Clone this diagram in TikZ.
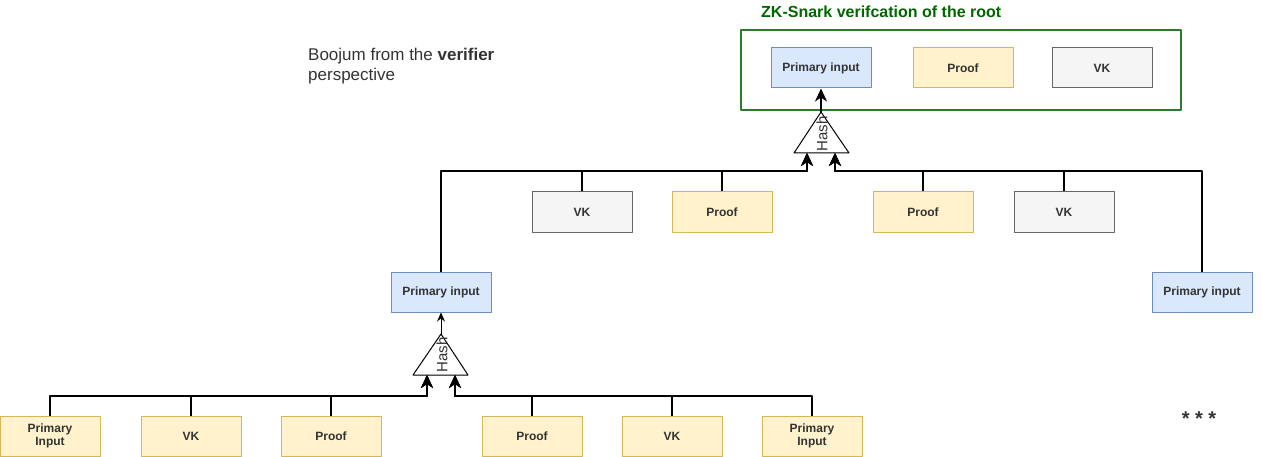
\documentclass[tikz,border=0pt]{standalone}
\usepackage{fontspec}
\setmainfont{Liberation Sans}
\usetikzlibrary{arrows.meta}
\definecolor{txtgray}{HTML}{333333}
\definecolor{pinfill}{HTML}{DAE8FC}
\definecolor{pinline}{HTML}{6C8EBF}
\definecolor{yelfill}{HTML}{FFF2CC}
\definecolor{yelline}{HTML}{D6B656}
\definecolor{vkfill}{HTML}{F5F5F5}
\definecolor{vkline}{HTML}{666666}
\definecolor{rootgreen}{HTML}{006600}
\definecolor{framegreen}{HTML}{2D7A2D}

\begin{document}
\begin{tikzpicture}[x=1pt,y=-1pt,line join=round]
\tikzstyle{box} = [draw,line width=1pt,minimum width=100pt,minimum height=40pt,inner sep=0pt,align=center,text=txtgray,font=\fontsize{12}{13.5}\selectfont\bfseries]
\tikzstyle{pin} = [box,fill=pinfill,draw=pinline]
\tikzstyle{yel} = [box,fill=yelfill,draw=yelline]
\tikzstyle{vk} = [box,fill=vkfill,draw=vkline]
\tikzstyle{link} = [line width=2pt,-{Stealth[length=13pt,width=12pt,inset=4pt]}]
\tikzstyle{thin} = [line width=1pt,-{Stealth[length=9pt,width=8pt,inset=3pt]}]
\tikzstyle{hashtxt} = [rotate=90,text=txtgray,inner sep=0pt,font=\fontsize{15}{15}\selectfont]
\useasboundingbox (0,0) rectangle (1263,457);
% root verification
\node[anchor=west,text=rootgreen,inner sep=0pt,font=\fontsize{16}{18}\selectfont\bfseries] (title) at (761,12) {ZK-Snark verifcation of the root};
\draw[framegreen,line width=2pt] (741,30) rectangle (1181,110);
\node[pin] (pinR) at (821,68) {Primary input};
\node[yel] (proofR) at (963,68) {Proof};
\node[vk] (vkR) at (1102,68) {VK};
\node[anchor=north west,align=left,text=txtgray,inner sep=0pt,font=\fontsize{17}{20}\selectfont] (note) at (308,48) {Boojum from the \textbf{verifier}\\perspective};
% top hash
\draw[line width=1pt,fill=white] (821,112) -- (849,153) -- (794,153) -- cycle;
\node[hashtxt] (hashT) at (822,134) {Hash};
\coordinate (tA) at (821,112);
\coordinate (tL) at (807,153);
\coordinate (tR) at (835,153);
\coordinate (jL) at (807,171);
\coordinate (jR) at (835,171);
% second level
\node[vk] (vkA) at (582,212) {VK};
\node[yel] (prA) at (722,212) {Proof};
\node[yel] (prB) at (923,212) {Proof};
\node[vk] (vkB) at (1064,212) {VK};
\node[pin] (pinA) at (441,292) {Primary input};
\node[pin] (pinB) at (1202,292) {Primary input};
\draw[link] (tA) -- (pinR.south);
\draw[link] (pinA.north) |- (jL) -- (tL);
\draw[link] (vkA.north) |- (jL) -- (tL);
\draw[link] (prA.north) |- (jL) -- (tL);
\draw[link] (prB.north) |- (jR) -- (tR);
\draw[link] (vkB.north) |- (jR) -- (tR);
\draw[link] (pinB.north) |- (jR) -- (tR);
% bottom hash
\draw[line width=1pt,fill=white] (441,334) -- (468,375) -- (413,375) -- cycle;
\node[hashtxt] (hashB) at (442,355) {Hash};
\coordinate (bA) at (441,334);
\coordinate (bL) at (427,375);
\coordinate (bR) at (455,375);
\coordinate (kL) at (427,396);
\coordinate (kR) at (455,396);
% leaves
\node[yel] (b1) at (50,436) {Primary\\Input};
\node[yel] (b2) at (191,436) {VK};
\node[yel] (b3) at (331,436) {Proof};
\node[yel] (b4) at (532,436) {Proof};
\node[yel] (b5) at (672,436) {VK};
\node[yel] (b6) at (812,436) {Primary\\Input};
\draw[thin] (bA) -- (pinA.south);
\draw[link] (b1.north) |- (kL) -- (bL);
\draw[link] (b2.north) |- (kL) -- (bL);
\draw[link] (b3.north) |- (kL) -- (bL);
\draw[link] (b4.north) |- (kR) -- (bR);
\draw[link] (b5.north) |- (kR) -- (bR);
\draw[link] (b6.north) |- (kR) -- (bR);
\node[text=txtgray,font=\fontsize{20}{20}\selectfont\bfseries] (dots) at (1199,419) {* * *};
\end{tikzpicture}
\end{document}
